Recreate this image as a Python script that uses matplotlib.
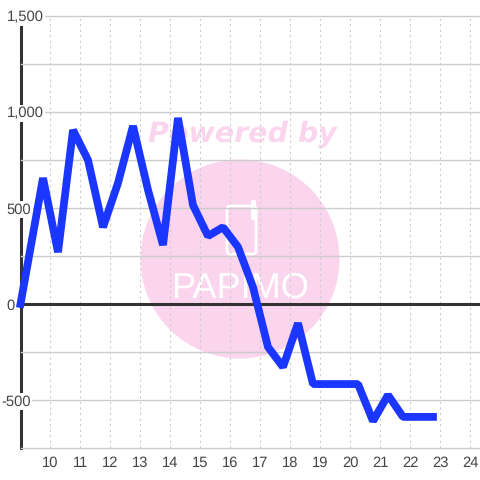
import matplotlib
matplotlib.use('Agg')
import matplotlib.pyplot as plt
from matplotlib.patches import Circle, FancyBboxPatch
from matplotlib.transforms import IdentityTransform

plt.rcParams['font.family'] = ['Liberation Sans', 'DejaVu Sans']
plt.rcParams['text.hinting'] = 'no_hinting'

hours = [9.0, 9.75, 10.25, 10.75, 11.25, 11.75, 12.25, 12.75, 13.25, 13.75,
         14.25, 14.75, 15.25, 15.75, 16.25, 16.75, 17.25, 17.75, 18.25, 18.75,
         19.25, 19.75, 20.25, 20.75, 21.25, 21.75, 22.25, 22.75]
values = [0, 656, 270, 906, 750, 400, 630, 927, 594, 307,
          969, 515, 354, 400, 297, 88, -224, -328, -100, -417,
          -417, -417, -417, -610, -474, -588, -588, -588]

x_ticks = list(range(10, 25))
y_major = [-500, 0, 500, 1000, 1500]
y_labels = ['-500', '0', '500', '1,000', '1,500']
y_minor = [-750, -250, 250, 750, 1250]

W = 480
fig = plt.figure(figsize=(4.8, 4.8), dpi=100, facecolor='white')
ax = fig.add_axes([20.5 / W, 32 / W, 459.5 / W, 432 / W])
ax.patch.set_visible(False)

# watermark sits under the axes, placed in pixels
pink = '#fbd5ee'
px = IdentityTransform()
fig.patches.append(Circle((240, W - 259), 99.5, color=pink, lw=0, transform=px, zorder=-3))
fig.patches.append(FancyBboxPatch((227, W - 254), 29, 48, boxstyle='round,pad=0,rounding_size=3',
                                  fc='none', ec='white', lw=2, transform=px, zorder=-2))
fig.patches.append(FancyBboxPatch((251, W - 220), 5, 20, boxstyle='round,pad=0,rounding_size=2',
                                  fc='white', ec='white', lw=0, transform=px, zorder=-2))
fig.text(242 / W, 1 - 134 / W, 'Powered by', color=pink, fontsize=20.5, fontweight='bold',
         style='italic', family='DejaVu Sans', ha='center', va='center', zorder=-2)
fig.text(240 / W, 1 - 288 / W, 'PAPIMO', color='white', fontsize=26, family='Liberation Sans',
         ha='center', va='center', zorder=-2)

ax.set_xlim(9, 24.317)
ax.set_ylim(-750, 1500)

for s in ['top', 'right', 'bottom']:
    ax.spines[s].set_visible(False)
ax.spines['left'].set_linewidth(2.2)
ax.spines['left'].set_color('#333333')
ax.spines['left'].set_zorder(0.4)

ax.set_axisbelow(True)
ax.set_xticks(x_ticks)
ax.set_yticks(y_major)
ax.set_yticklabels(y_labels)
ax.set_yticks(y_minor, minor=True)
ax.grid(True, axis='y', which='both', color='#cccccc', lw=1)
ax.grid(True, axis='x', color='#cccccc', lw=0.8, ls=(0, (2, 3)))
ax.tick_params(which='both', length=0)
ax.tick_params(axis='x', labelsize=10.6, labelcolor='#444444', pad=6)
ax.tick_params(axis='y', labelsize=10.6, labelcolor='#444444', pad=10)

for tick in ax.yaxis.get_major_ticks() + ax.yaxis.get_minor_ticks():
    tick.gridline.set_clip_on(False)

for lab, tick in zip(y_labels, ax.yaxis.get_major_ticks()):
    tick.label1.set_ha('left')
    tick.label1.set_bbox(dict(fc='white', ec='none', pad=1))
    tick.set_pad(13.8 if lab == '-500' else 10)

ax.axhline(0, color='#333333', lw=2.2, zorder=1)
ax.plot(hours, values, color='#1a36ff', lw=5.6, solid_joinstyle='bevel',
        solid_capstyle='projecting', clip_on=False, zorder=3)

fig.savefig('out.png', dpi=100)
